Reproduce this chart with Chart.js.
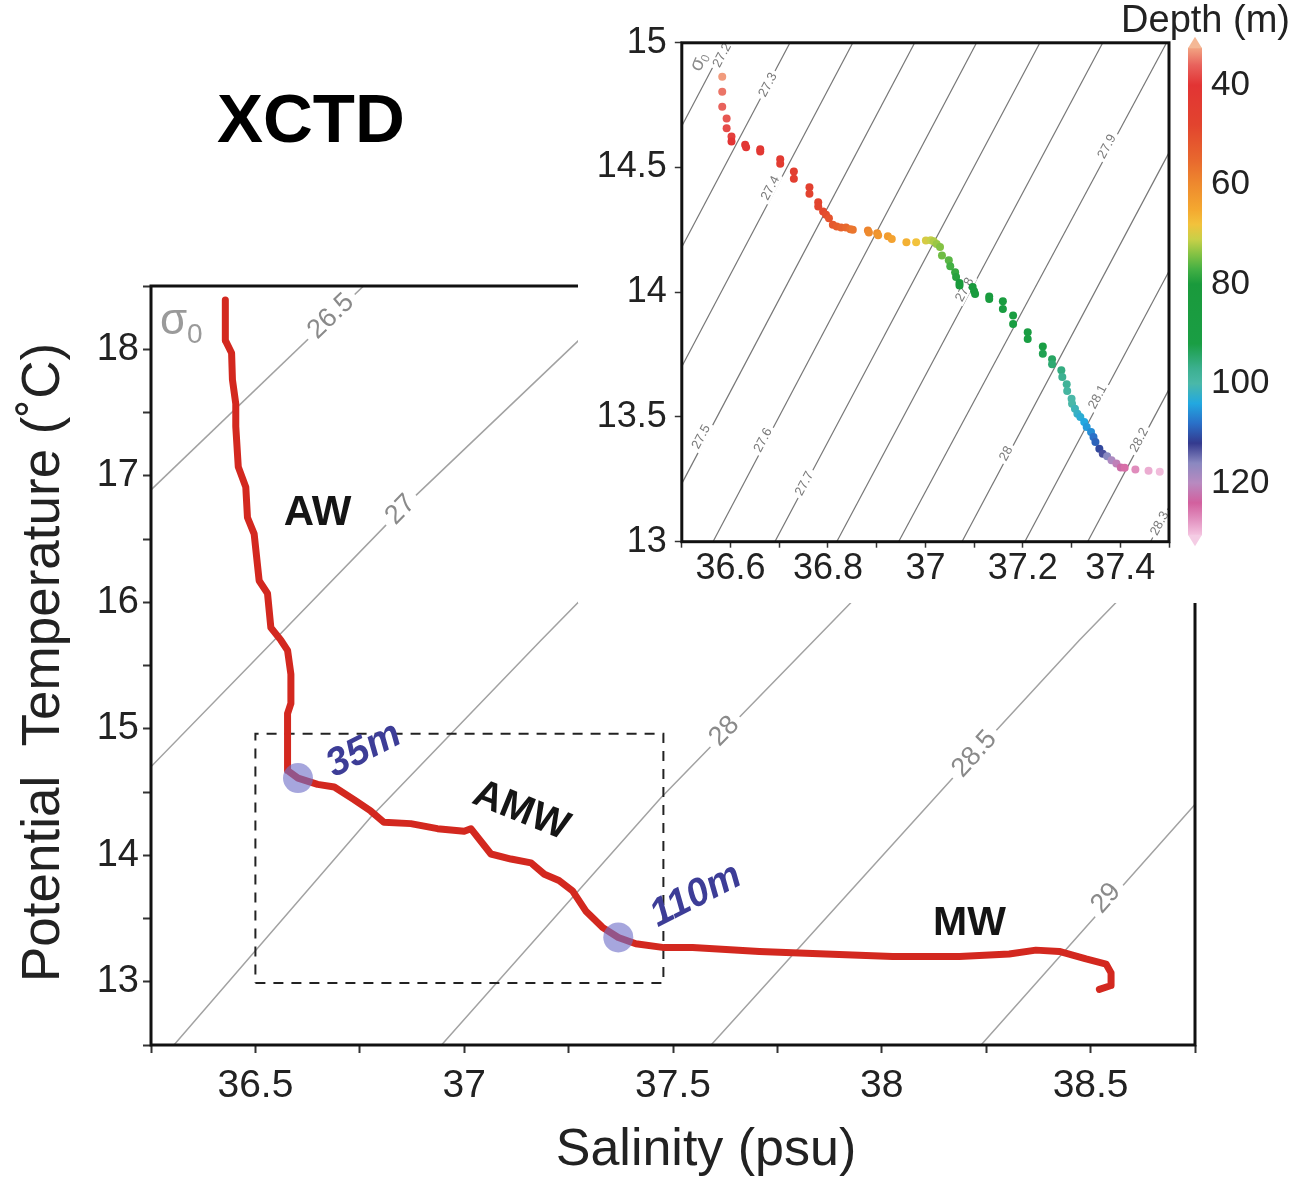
<!DOCTYPE html>
<html lang="en">
<head>
<meta charset="utf-8">
<title>XCTD T-S diagram</title>
<script src="https://cdn.jsdelivr.net/npm/chart.js@4.4.1/dist/chart.umd.min.js"></script>
<style>
  html, body { margin: 0; padding: 0; background: #fff; }
  #page { position: relative; width: 1299px; height: 1177px; overflow: hidden; }
  #tsMain { position: absolute; left: 0; top: 0; }
  #tsInset { position: absolute; left: 578px; top: 0; background: #fff; }
</style>
</head>
<body>
<div id="page">
  <canvas id="tsMain" width="1299" height="1177"></canvas>
  <canvas id="tsInset" width="721" height="603"></canvas>
</div>
<script>
// Diagrama T-S do perfil XCTD (principal + detalhe com profundidade)

const FONT = "'Liberation Sans', Arial, Helvetica, sans-serif";
Chart.defaults.font.family = FONT;
Chart.defaults.color = '#222';

// ===== DADOS: PERFIL PRINCIPAL =====
const profileSal = [36.428, 36.428, 36.443, 36.445, 36.453, 36.453, 36.459, 36.477, 36.481, 36.497,
  36.509, 36.529, 36.537, 36.561, 36.577, 36.585, 36.585, 36.577, 36.577, 36.602,
  36.649, 36.689, 36.736, 36.776, 36.808, 36.872, 36.936, 37.000, 37.016, 37.064,
  37.112, 37.160, 37.192, 37.227, 37.259, 37.291, 37.331, 37.369, 37.411, 37.479,
  37.547, 37.707, 37.866, 38.026, 38.186, 38.305, 38.369, 38.425, 38.489, 38.537,
  38.549, 38.549, 38.521];
const profileTemp = [18.39, 18.07, 17.97, 17.76, 17.57, 17.39, 17.07, 16.91, 16.67, 16.54,
  16.17, 16.07, 15.80, 15.70, 15.62, 15.43, 15.20, 15.12, 14.67, 14.61,
  14.56, 14.54, 14.44, 14.35, 14.26, 14.25, 14.21, 14.19, 14.21, 14.01,
  13.97, 13.94, 13.85, 13.80, 13.72, 13.56, 13.43, 13.35, 13.30, 13.27,
  13.27, 13.24, 13.22, 13.20, 13.20, 13.22, 13.25, 13.24, 13.18, 13.14,
  13.07, 12.97, 12.94];

// marcadores de profundidade
const markerSal = [36.602, 37.369];
const markerTemp = [14.61, 13.35];
const markerText = ['35m', '110m'];
const markerLabelSal = [36.76, 37.555];
const markerLabelTemp = [14.83, 13.68];

// massas de agua
const regionText = ['AW', 'AMW', 'MW'];
const regionSal = [36.649, 37.136, 38.21];
const regionTemp = [16.70, 14.35, 13.46];

// caixa tracejada (area do detalhe)
const boxSal = [36.5, 37.477, 37.477, 36.5, 36.5];
const boxTemp = [12.99, 12.99, 14.96, 14.96, 12.99];

// isopicnais do grafico principal
const isoMainLevels = ['26.5', '27', '27.5', '28', '28.5', '29'];
const isoMainSal = [
  [36.2, 36.8],
  [36.2, 36.545, 36.848, 37.271, 37.5],
  [36.25, 36.776, 37.184, 37.6],
  [36.9, 37.47, 37.924, 38.2],
  [37.55, 38.222, 38.473, 38.7],
  [38.2, 38.744, 38.8]
];
const isoMainTemp = [
  [16.73, 18.63],
  [14.53, 15.70, 16.73, 18.06, 18.78],
  [12.29, 14.30, 15.70, 17.1],
  [12.33, 14.45, 15.99, 16.93],
  [12.35, 14.80, 15.70, 16.47],
  [12.36, 14.38, 14.58]
];
const isoMainLabelSal = [36.681, 36.848, null, 37.623, 38.222, 38.537];
const isoMainLabelTemp = [18.26, 16.73, null, 14.98, 14.80, 13.66];

// ===== DADOS: DETALHE =====
const insetSal = [36.583, 36.583, 36.583, 36.592, 36.592, 36.602, 36.602, 36.630, 36.632, 36.661,
  36.661, 36.702, 36.702, 36.730, 36.730, 36.762, 36.762, 36.780, 36.780, 36.790,
  36.796, 36.802, 36.810, 36.818, 36.827, 36.837, 36.846, 36.851, 36.882, 36.884,
  36.901, 36.903, 36.923, 36.931, 36.961, 36.981, 37.001, 37.011, 37.017, 37.023,
  37.030, 37.034, 37.048, 37.051, 37.061, 37.063, 37.070, 37.070, 37.097, 37.100,
  37.102, 37.131, 37.131, 37.159, 37.159, 37.180, 37.180, 37.210, 37.210, 37.241,
  37.241, 37.260, 37.260, 37.279, 37.281, 37.290, 37.291, 37.300, 37.301, 37.307,
  37.312, 37.318, 37.326, 37.331, 37.340, 37.345, 37.349, 37.357, 37.364, 37.373,
  37.382, 37.392, 37.401, 37.409, 37.431, 37.458, 37.481];
const insetTemp = [14.864, 14.804, 14.744, 14.697, 14.657, 14.624, 14.604, 14.591, 14.581, 14.573,
  14.564, 14.533, 14.515, 14.484, 14.455, 14.421, 14.395, 14.361, 14.344, 14.324,
  14.311, 14.297, 14.271, 14.264, 14.260, 14.260, 14.253, 14.251, 14.248, 14.240,
  14.237, 14.229, 14.224, 14.213, 14.200, 14.200, 14.207, 14.208, 14.204, 14.193,
  14.181, 14.147, 14.128, 14.104, 14.080, 14.061, 14.037, 14.027, 14.021, 14.004,
  13.993, 13.983, 13.973, 13.964, 13.933, 13.907, 13.873, 13.840, 13.813, 13.783,
  13.753, 13.731, 13.711, 13.687, 13.660, 13.631, 13.604, 13.573, 13.553, 13.533,
  13.513, 13.500, 13.480, 13.460, 13.440, 13.420, 13.400, 13.373, 13.353, 13.343,
  13.327, 13.313, 13.297, 13.296, 13.289, 13.284, 13.280];
const insetDepth = [33, 35, 36, 37, 38, 39, 40, 41, 41, 42,
  42, 43, 44, 45, 45, 46, 47, 48, 48, 49,
  50, 51, 52, 53, 54, 55, 56, 57, 59, 60,
  61, 62, 63, 64, 66, 68, 70, 71, 72, 73,
  74, 75, 76, 77, 78, 79, 80, 80, 81, 82,
  83, 84, 85, 86, 87, 88, 89, 90, 91, 92,
  93, 94, 95, 96, 97, 98, 99, 100, 100, 101,
  102, 103, 104, 105, 106, 108, 109, 111, 113, 116,
  119, 121, 123, 125, 127, 129, 130];

// isopicnais do detalhe: salinidade em T=15 e T=13
const isoInsetLevels = ['27.2', '27.3', '27.4', '27.5', '27.6', '27.7', '27.8', '27.9', '28', '28.1', '28.2', '28.3'];
const isoInsetSalTop = [36.590, 36.722, 36.851, 36.978, 37.105, 37.235, 37.364, 37.495, 37.62, 37.75, 37.88, 38.01];
const isoInsetSalBottom = [36.05, 36.18, 36.31, 36.437, 36.564, 36.691, 36.818, 36.945, 37.075, 37.204, 37.333, 37.462];
const isoInsetTempTop = 15;
const isoInsetTempBottom = 13;
const isoInsetLabelSal = [36.583, 36.677, 36.682, 36.540, 36.667, 36.752, 37.081, 37.373, 37.166, 37.354, 37.439, 37.481];
const isoInsetLabelTemp = [14.95, 14.831, 14.417, 13.420, 13.407, 13.233, 14.01, 14.584, 13.353, 13.58, 13.407, 13.073];

// escala de cores (profundidade)
const cbDepth = [32.5, 36, 40, 48, 55, 60, 65, 68, 71, 74, 77, 80, 92, 97, 100, 104, 108, 112, 116, 120, 124, 127, 130.5];
const cbColor = ['#f2a482', '#e8625c', '#e23434', '#e2442e', '#e8682e', '#ee8a2e', '#f4a830', '#f2c23c',
  '#c8d048', '#84c244', '#44b044', '#1a9a3c', '#1a9e44', '#3cb090', '#4ab8a8', '#22a8e0', '#2a70c8',
  '#343a8e', '#8a88c0', '#b88ac0', '#d2609e', '#e08cbc', '#f4c4e0'];
const depthTicks = [40, 60, 80, 100, 120];

// ===== HELPERS =====
function toPoints(xs, ys) {
  return xs.map((x, i) => ({ x: x, y: ys[i] }));
}

function hexToRgb(h) {
  const n = parseInt(h.slice(1), 16);
  return [(n >> 16) & 255, (n >> 8) & 255, n & 255];
}

function colorForDepth(d) {
  if (d <= cbDepth[0]) return cbColor[0];
  for (let i = 1; i < cbDepth.length; i++) {
    if (d <= cbDepth[i]) {
      const t = (d - cbDepth[i - 1]) / (cbDepth[i] - cbDepth[i - 1]);
      const a = hexToRgb(cbColor[i - 1]);
      const b = hexToRgb(cbColor[i]);
      const c = a.map((v, k) => Math.round(v + (b[k] - v) * t));
      return `rgb(${c[0]},${c[1]},${c[2]})`;
    }
  }
  return cbColor[cbColor.length - 1];
}

function segmentAngle(xs, ys, sx, xScale, yScale) {
  let i = 0;
  while (i < xs.length - 2 && xs[i + 1] < sx) i++;
  const dx = xScale.getPixelForValue(xs[i + 1]) - xScale.getPixelForValue(xs[i]);
  const dy = yScale.getPixelForValue(ys[i + 1]) - yScale.getPixelForValue(ys[i]);
  return Math.atan2(dy, dx);
}

function drawTag(ctx, text, x, y, angle, size, color, gap) {
  ctx.save();
  ctx.translate(x, y);
  ctx.rotate(angle);
  ctx.font = `${size}px ${FONT}`;
  const w = ctx.measureText(text).width;
  if (gap) {
    ctx.fillStyle = '#fff';
    ctx.fillRect(-w / 2 - gap, -size * 0.45, w + gap * 2, size * 0.9);
  }
  ctx.fillStyle = color;
  ctx.textAlign = 'center';
  ctx.textBaseline = 'middle';
  ctx.fillText(text, 0, 0);
  ctx.restore();
}

function clipToArea(ctx, a) {
  ctx.beginPath();
  ctx.rect(a.left, a.top, a.right - a.left, a.bottom - a.top);
  ctx.clip();
}

// ===== GRAFICO PRINCIPAL =====
const isoMainDatasets = isoMainLevels.map((lvl, i) => ({
  label: 'sigma ' + lvl,
  data: toPoints(isoMainSal[i], isoMainTemp[i]),
  showLine: true,
  borderColor: '#a2a2a2',
  borderWidth: 1.5,
  pointRadius: 0,
  order: 10
}));
const BOX_INDEX = isoMainDatasets.length;

const mainDecor = {
  id: 'mainDecor',
  beforeDatasetDraw(chart, args) {
    if (args.index !== BOX_INDEX) return;
    const { ctx, chartArea: a, scales: { x, y } } = chart;
    ctx.save();
    clipToArea(ctx, a);
    isoMainLevels.forEach((lvl, i) => {
      if (isoMainLabelSal[i] == null) return;
      const ang = segmentAngle(isoMainSal[i], isoMainTemp[i], isoMainLabelSal[i], x, y);
      drawTag(ctx, lvl, x.getPixelForValue(isoMainLabelSal[i]), y.getPixelForValue(isoMainLabelTemp[i]),
        ang, 27, '#8a8a8a', 6);
    });
    ctx.restore();
  },
  afterDraw(chart) {
    const { ctx, chartArea: a, scales: { x, y } } = chart;
    ctx.save();

    // moldura
    ctx.strokeStyle = '#111';
    ctx.lineWidth = 3;
    ctx.strokeRect(a.left, a.top, a.right - a.left, a.bottom - a.top);

    // sigma-0
    ctx.fillStyle = '#9a9a9a';
    ctx.textBaseline = 'alphabetic';
    ctx.textAlign = 'left';
    ctx.font = `44px ${FONT}`;
    ctx.fillText('σ', a.left + 9, a.top + 48);
    ctx.font = `28px ${FONT}`;
    ctx.fillText('0', a.left + 36, a.top + 57);

    // massas de agua
    const regionAngle = [0, 22, 0];
    const regionSize = [42, 40, 41];
    regionText.forEach((t, i) => {
      ctx.save();
      ctx.translate(x.getPixelForValue(regionSal[i]), y.getPixelForValue(regionTemp[i]));
      ctx.rotate(regionAngle[i] * Math.PI / 180);
      ctx.font = `bold ${regionSize[i]}px ${FONT}`;
      ctx.fillStyle = '#151515';
      ctx.textAlign = 'center';
      ctx.textBaseline = 'middle';
      ctx.fillText(t, 0, 0);
      ctx.restore();
    });

    // rotulos de profundidade
    const markerAngle = [-27, -27];
    markerText.forEach((t, i) => {
      ctx.save();
      ctx.translate(x.getPixelForValue(markerLabelSal[i]), y.getPixelForValue(markerLabelTemp[i]));
      ctx.rotate(markerAngle[i] * Math.PI / 180);
      ctx.font = `italic bold 39px ${FONT}`;
      ctx.fillStyle = '#3d3d97';
      ctx.textAlign = 'center';
      ctx.textBaseline = 'middle';
      ctx.fillText(t, 0, 0);
      ctx.restore();
    });

    // titulos dos eixos
    ctx.fillStyle = '#222';
    ctx.font = `52px ${FONT}`;
    ctx.textAlign = 'center';
    ctx.textBaseline = 'middle';
    ctx.fillText('Salinity (psu)', (a.left + a.right) / 2 + 33, a.bottom + 106);
    ctx.save();
    ctx.translate(44, (a.top + a.bottom) / 2 - 3);
    ctx.rotate(-Math.PI / 2);
    ctx.font = `53px ${FONT}`;
    ctx.fillText('Potential  Temperature (˚C)', 0, 0);
    ctx.restore();

    // titulo XCTD
    ctx.font = `bold 69px ${FONT}`;
    ctx.fillStyle = '#000';
    ctx.textAlign = 'left';
    ctx.textBaseline = 'alphabetic';
    ctx.fillText('XCTD', 217, 142);

    ctx.restore();
  }
};

const mainChart = new Chart(document.getElementById('tsMain'), {
  type: 'scatter',
  data: {
    datasets: [
      ...isoMainDatasets,
      {
        label: 'inset box',
        data: toPoints(boxSal, boxTemp),
        showLine: true,
        borderColor: '#222',
        borderWidth: 2,
        borderDash: [10, 8],
        pointRadius: 0,
        order: 2
      },
      {
        label: 'XCTD profile',
        data: toPoints(profileSal, profileTemp),
        showLine: true,
        borderColor: '#d3281f',
        borderWidth: 7,
        borderJoinStyle: 'round',
        borderCapStyle: 'round',
        pointRadius: 0,
        order: 1
      },
      {
        label: 'depth markers',
        data: toPoints(markerSal, markerTemp),
        showLine: false,
        pointRadius: 15,
        pointBackgroundColor: 'rgba(112,112,200,0.62)',
        pointBorderWidth: 0,
        order: 0
      }
    ]
  },
  options: {
    responsive: false,
    animation: false,
    devicePixelRatio: 1,
    events: [],
    layout: { padding: { left: 0, top: 286, right: 104, bottom: 0 } },
    plugins: { legend: { display: false }, tooltip: { enabled: false } },
    scales: {
      x: {
        type: 'linear',
        min: 36.25,
        max: 38.75,
        afterFit: s => { s.height = 132; },
        border: { display: false },
        grid: { drawOnChartArea: false, tickLength: 8, tickWidth: 2, tickColor: '#333' },
        ticks: {
          stepSize: 0.25,
          autoSkip: false,
          maxRotation: 0,
          minRotation: 0,
          padding: 10,
          font: { size: 39 },
          color: '#222',
          callback: v => (Math.abs(v * 2 - Math.round(v * 2)) < 1e-6 ? String(+v.toFixed(1)) : '')
        }
      },
      y: {
        type: 'linear',
        min: 12.5,
        max: 18.5,
        afterFit: s => { s.width = 151; },
        border: { display: false },
        grid: { drawOnChartArea: false, tickLength: 8, tickWidth: 2, tickColor: '#333' },
        ticks: {
          stepSize: 0.5,
          autoSkip: false,
          padding: 4,
          font: { size: 38 },
          color: '#222',
          callback: v => (Math.abs(v - Math.round(v)) < 1e-6 ? String(Math.round(v)) : '')
        }
      }
    }
  },
  plugins: [mainDecor]
});

// ===== GRAFICO DE DETALHE =====
const isoInsetDatasets = isoInsetLevels.map((lvl, i) => ({
  label: 'sigma ' + lvl,
  data: [
    { x: isoInsetSalBottom[i], y: isoInsetTempBottom },
    { x: isoInsetSalTop[i], y: isoInsetTempTop }
  ],
  showLine: true,
  borderColor: '#767676',
  borderWidth: 1.2,
  pointRadius: 0,
  order: 10
}));
const INSET_POINTS_INDEX = isoInsetDatasets.length;

const insetDecor = {
  id: 'insetDecor',
  beforeDatasetDraw(chart, args) {
    if (args.index !== INSET_POINTS_INDEX) return;
    const { ctx, chartArea: a, scales: { x, y } } = chart;
    ctx.save();
    clipToArea(ctx, a);
    isoInsetLevels.forEach((lvl, i) => {
      const xs = [isoInsetSalBottom[i], isoInsetSalTop[i]];
      const ys = [isoInsetTempBottom, isoInsetTempTop];
      const ang = segmentAngle(xs, ys, isoInsetLabelSal[i], x, y);
      drawTag(ctx, lvl, x.getPixelForValue(isoInsetLabelSal[i]), y.getPixelForValue(isoInsetLabelTemp[i]),
        ang, 13, '#7a7a7a', 3);
    });
    // sigma-0 do detalhe
    ctx.translate(a.left + 17, a.top + 19);
    ctx.rotate(-65 * Math.PI / 180);
    ctx.fillStyle = '#8a8a8a';
    ctx.textAlign = 'center';
    ctx.textBaseline = 'middle';
    ctx.font = `20px ${FONT}`;
    ctx.fillText('σ', -3, 0);
    ctx.font = `12px ${FONT}`;
    ctx.fillText('0', 6, 5);
    ctx.restore();
  },
  afterDraw(chart) {
    const { ctx, chartArea: a, scales: { depth } } = chart;
    ctx.save();
    ctx.strokeStyle = '#111';
    ctx.lineWidth = 3;
    ctx.strokeRect(a.left, a.top, a.right - a.left, a.bottom - a.top);

    // barra de cores
    const x0 = depth.left + 19;
    const w = 14;
    const d0 = cbDepth[0];
    const d1 = cbDepth[cbDepth.length - 1];
    const yTop = depth.getPixelForValue(d0);
    const yBot = depth.getPixelForValue(d1);
    const g = ctx.createLinearGradient(0, yTop, 0, yBot);
    cbDepth.forEach((v, i) => g.addColorStop((v - d0) / (d1 - d0), cbColor[i]));
    ctx.fillStyle = g;
    ctx.fillRect(x0, yTop, w, yBot - yTop);
    ctx.beginPath();
    ctx.moveTo(x0, yTop + 0.5);
    ctx.lineTo(x0 + w / 2, yTop - 11);
    ctx.lineTo(x0 + w, yTop + 0.5);
    ctx.closePath();
    ctx.fillStyle = '#f4b896';
    ctx.fill();
    ctx.beginPath();
    ctx.moveTo(x0, yBot - 0.5);
    ctx.lineTo(x0 + w / 2, yBot + 11);
    ctx.lineTo(x0 + w, yBot - 0.5);
    ctx.closePath();
    ctx.fillStyle = '#f4cce4';
    ctx.fill();
    ctx.restore();
  }
};

const insetChart = new Chart(document.getElementById('tsInset'), {
  type: 'scatter',
  data: {
    datasets: [
      ...isoInsetDatasets,
      {
        label: 'XCTD samples',
        data: toPoints(insetSal, insetTemp),
        showLine: false,
        pointRadius: 4,
        pointBorderWidth: 0,
        pointBackgroundColor: insetDepth.map(colorForDepth),
        order: 0
      }
    ]
  },
  options: {
    responsive: false,
    animation: false,
    devicePixelRatio: 1,
    events: [],
    layout: { padding: { left: 0, top: 0, right: 9, bottom: 0 } },
    plugins: {
      legend: { display: false },
      tooltip: { enabled: false },
      title: {
        display: true,
        text: 'Depth (m)',
        align: 'end',
        color: '#222',
        font: { size: 38, weight: 'normal', lineHeight: 1.1 },
        padding: { top: 1, bottom: 0 }
      }
    },
    scales: {
      x: {
        type: 'linear',
        min: 36.5,
        max: 37.5,
        afterFit: s => { s.height = 61.3; },
        border: { display: false },
        grid: { drawOnChartArea: false, tickLength: 6, tickWidth: 1.5, tickColor: '#333' },
        ticks: {
          stepSize: 0.1,
          autoSkip: false,
          maxRotation: 0,
          minRotation: 0,
          padding: 0,
          font: { size: 36 },
          color: '#222',
          callback: v => (Math.round(v * 10) % 2 === 0 ? String(+v.toFixed(1)) : '')
        }
      },
      y: {
        type: 'linear',
        min: 13,
        max: 15,
        afterFit: s => { s.width = 103.8; },
        border: { display: false },
        grid: { drawOnChartArea: false, tickLength: 7, tickWidth: 1.5, tickColor: '#333' },
        ticks: {
          stepSize: 0.5,
          autoSkip: false,
          padding: 8,
          font: { size: 36 },
          color: '#222',
          callback: v => String(+v.toFixed(1))
        }
      },
      depth: {
        type: 'linear',
        position: 'right',
        reverse: true,
        min: 31.5,
        max: 131.8,
        afterBuildTicks: s => { s.ticks = depthTicks.map(v => ({ value: v })); },
        afterFit: s => { s.width = 121; },
        border: { display: false },
        grid: { drawOnChartArea: false, tickLength: 38, color: 'rgba(0,0,0,0)', tickColor: 'rgba(0,0,0,0)' },
        ticks: { padding: 4, font: { size: 35 }, color: '#222' }
      }
    }
  },
  plugins: [insetDecor]
});
</script>
</body>
</html>
